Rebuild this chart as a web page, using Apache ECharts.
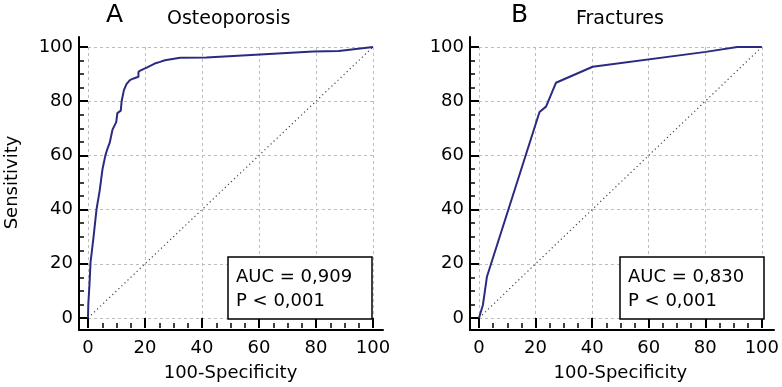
<!DOCTYPE html>
<html>
<head>
<meta charset="utf-8">
<script src="https://cdn.jsdelivr.net/npm/echarts@6/dist/echarts.min.js"></script>
<style>
html,body{margin:0;padding:0;background:#fff;}
#chart{width:782px;height:387px;}
</style>
</head>
<body>
<div id="chart"></div>
<script>
// ---- data ----
const panelLetters = ['A', 'B'];
const panelTitles = ['Osteoporosis', 'Fractures'];
const xAxisName = '100-Specificity';
const yAxisName = 'Sensitivity';
const tickValues = [0, 20, 40, 60, 80, 100];
const statTextA = ['AUC = 0,909', 'P < 0,001'];
const statTextB = ['AUC = 0,830', 'P < 0,001'];
// ROC curve A (Osteoporosis): [100-Specificity, Sensitivity]
const rocA = [
  [0,0],[0.1,5],[0.5,12],[0.9,20.7],[1.4,25],[1.9,29.5],[3.0,40.2],[4.1,47],[5.1,55],
  [6.1,60],[7.0,63],[7.6,64.6],[8.6,69.5],[9.9,72.3],[10.3,75.6],[11.5,76.5],[11.8,80],
  [12.6,84.1],[13.5,86.3],[14.7,87.8],[16,88.4],[17.7,89],[17.7,90.8],[18.5,91.4],
  [20.6,92.4],[23.4,93.9],[25.3,94.5],[27,95.1],[32.3,96],[41.5,96.1],[60.4,97.2],
  [79,98.3],[88,98.5],[100,100]
];
// ROC curve B (Fractures)
const rocB = [
  [0,0],[1.4,4.9],[2.8,15.2],[21.4,76],[23.7,78],[27.2,86.8],[40.2,92.7],
  [80.2,98.2],[91.3,100],[100,100]
];
const diagonal = [[0,0],[100,100]];

// ---- chart ----
const FONT = 'DejaVu Sans';
const chart = echarts.init(document.getElementById('chart'));

function frameAxes(gi){
  return {gridIndex: gi, type: 'value', min: 0, max: 1,
    axisLine: {show: true, onZero: false, lineStyle: {color: '#000', width: 2}},
    axisTick: {show: false}, axisLabel: {show: false}, splitLine: {show: false}};
}
function plotX(gi){
  return {gridIndex: gi, type: 'value', min: tickValues[0], max: tickValues[tickValues.length-1], interval: 20, offset: 10,
    axisLine: {show: false, onZero: false},
    axisTick: {show: true, inside: true, length: 10, lineStyle: {color: '#000', width: 2}},
    minorTick: {show: true, splitNumber: 4, length: 5, lineStyle: {color: '#000', width: 1.5}},
    axisLabel: {margin: 11, fontSize: 18, color: '#000', fontFamily: FONT},
    splitLine: {show: true, lineStyle: {color: '#bdbdbd', width: 1, type: [3, 3]}},
    name: xAxisName, nameLocation: 'middle', nameGap: 36,
    nameTextStyle: {fontSize: 18, color: '#000', fontFamily: FONT}};
}
function plotY(gi, withName){
  return {gridIndex: gi, type: 'value', min: tickValues[0], max: tickValues[tickValues.length-1], interval: 20, offset: 9,
    axisLine: {show: false, onZero: false},
    axisTick: {show: true, inside: true, length: 9, lineStyle: {color: '#000', width: 2}},
    minorTick: {show: true, splitNumber: 4, length: 5, lineStyle: {color: '#000', width: 1.5}},
    axisLabel: {margin: 6, fontSize: 18, color: '#000', fontFamily: FONT},
    splitLine: {show: true, lineStyle: {color: '#bdbdbd', width: 1, type: [3, 3]}},
    name: withName ? yAxisName : '', nameLocation: 'middle', nameGap: 58,
    nameTextStyle: {fontSize: 18, color: '#000', fontFamily: FONT}};
}
function statBox(lines, left){
  return {text: lines.join('\n'), left: left, top: 257, padding: [8, 20, 6, 8],
    borderColor: '#000', borderWidth: 1.5, backgroundColor: '#fff',
    textStyle: {fontSize: 18, lineHeight: 24, fontWeight: 'normal', color: '#000', fontFamily: FONT}};
}
const titleStyle = (size) => ({fontSize: size, fontWeight: 'normal', color: '#000', fontFamily: FONT});

chart.setOption({
  animation: false,
  backgroundColor: '#fff',
  title: [
    {text: panelLetters[0], left: 106, top: 3, padding: 0, textStyle: titleStyle(25)},
    {text: panelTitles[0], left: 167, top: 10, padding: 0, textStyle: titleStyle(19)},
    {text: panelLetters[1], left: 511, top: 3, padding: 0, textStyle: titleStyle(25)},
    {text: panelTitles[1], left: 576, top: 10, padding: 0, textStyle: titleStyle(19)},
    statBox(statTextA, 228),
    statBox(statTextB, 620)
  ],
  grid: [
    {left: 79, top: 37, width: 304, height: 293},
    {left: 88, top: 47, width: 285, height: 273},
    {left: 470, top: 37, width: 304, height: 293},
    {left: 479, top: 47, width: 284, height: 273}
  ],
  xAxis: [frameAxes(0), plotX(1), frameAxes(2), plotX(3)],
  yAxis: [frameAxes(0), plotY(1, true), frameAxes(2), plotY(3, false)],
  series: [
    {type: 'line', xAxisIndex: 1, yAxisIndex: 1, data: diagonal, showSymbol: false, silent: true,
      lineStyle: {color: '#444', width: 1.2, type: [1.2, 3]}},
    {type: 'line', xAxisIndex: 1, yAxisIndex: 1, data: rocA, showSymbol: false, z: 3,
      lineStyle: {color: '#2a2a80', width: 2}},
    {type: 'line', xAxisIndex: 3, yAxisIndex: 3, data: diagonal, showSymbol: false, silent: true,
      lineStyle: {color: '#444', width: 1.2, type: [1.2, 3]}},
    {type: 'line', xAxisIndex: 3, yAxisIndex: 3, data: rocB, showSymbol: false, z: 3,
      lineStyle: {color: '#2a2a80', width: 2}}
  ]
});
</script>
</body>
</html>
